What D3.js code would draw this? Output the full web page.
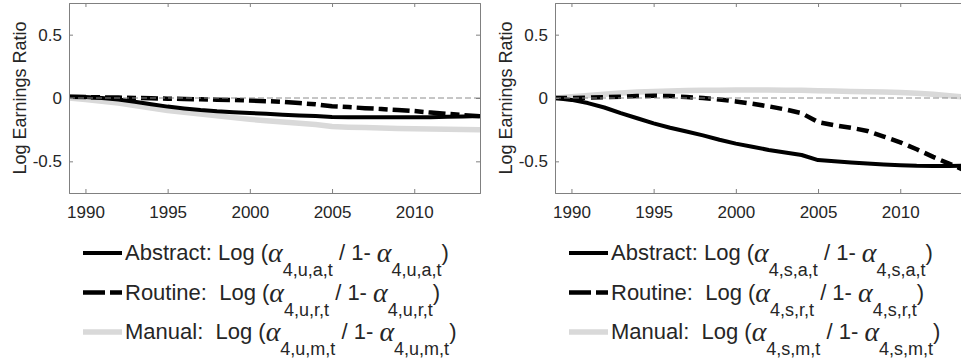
<!DOCTYPE html>
<html>
<head>
<meta charset="utf-8">
<script src="https://cdn.jsdelivr.net/npm/d3@7"></script>
<style>
  body { margin: 0; background: #fff; }
  svg { display: block; font-family: "Liberation Sans", Arial, Helvetica, sans-serif; }
</style>
</head>
<body>
<svg id="chart" width="961" height="358"></svg>
<script>
// data (1989-2014)
const years = [1989, 1990, 1991, 1992, 1993, 1994, 1995, 1996, 1997, 1998, 1999, 2000, 2001,
  2002, 2003, 2004, 2005, 2006, 2007, 2008, 2009, 2010, 2011, 2012, 2013, 2014]
const xTicks = [1990, 1995, 2000, 2005, 2010]
const yTicks = [-0.5, 0, 0.5]
const yTickLabels = ['-0.5', '0', '0.5']

// left panel (u)
const uAbstract = [0.01, 0.008, 0.0, -0.012, -0.03, -0.05, -0.068, -0.082, -0.095, -0.105, -0.112, -0.118, -0.125,
  -0.132, -0.138, -0.143, -0.15, -0.151, -0.152, -0.152, -0.152, -0.152, -0.151, -0.149, -0.146, -0.142]
const uRoutine = [0.01, 0.007, 0.005, 0.003, 0.0, -0.002, -0.005, -0.008, -0.01, -0.013, -0.016, -0.02, -0.025,
  -0.03, -0.04, -0.05, -0.065, -0.072, -0.08, -0.087, -0.095, -0.103, -0.115, -0.125, -0.135, -0.145]
const uManual = [0.0, -0.012, -0.025, -0.04, -0.06, -0.08, -0.098, -0.113, -0.127, -0.14, -0.155, -0.168, -0.18,
  -0.19, -0.2, -0.21, -0.225, -0.23, -0.233, -0.237, -0.24, -0.243, -0.245, -0.247, -0.248, -0.25]

// right panel (s)
const sAbstract = [0.0, -0.015, -0.04, -0.075, -0.12, -0.16, -0.2, -0.235, -0.265, -0.295, -0.33, -0.36, -0.385,
  -0.41, -0.43, -0.45, -0.49, -0.5, -0.51, -0.518, -0.525, -0.53, -0.535, -0.537, -0.537, -0.535]
const sRoutine = [0.0, 0.0, 0.003, 0.006, 0.01, 0.015, 0.018, 0.015, 0.008, 0.0, -0.012, -0.027, -0.045,
  -0.066, -0.09, -0.12, -0.19, -0.215, -0.235, -0.26, -0.305, -0.35, -0.405, -0.465, -0.52, -0.575]
const sManual = [0.0, 0.01, 0.02, 0.03, 0.04, 0.047, 0.052, 0.056, 0.059, 0.061, 0.062, 0.063, 0.063,
  0.063, 0.062, 0.061, 0.058, 0.055, 0.052, 0.05, 0.047, 0.044, 0.038, 0.03, 0.018, 0.006]

const seriesNames = ['Abstract:', 'Routine: ', 'Manual: ']
const seriesKeys = ['a', 'r', 'm']

const svg = d3.select('#chart')
const axisColor = '#808080'
const textColor = '#262626'
const grayLine = '#d9d9d9'
const greekFont = '"Liberation Serif", "DejaVu Serif", serif'

const panels = [
  { left: 69, group: 'u', routineDash: '17,5,9,5', data: [uAbstract, uRoutine, uManual] },
  { left: 555, group: 's', routineDash: '12,6', data: [sAbstract, sRoutine, sManual] },
]

const plotW = 411
const plotTop = 3
const plotBottom = 193

panels.forEach((p, i) => {
  const x = d3.scaleLinear().domain([1989, 2014]).range([p.left, p.left + plotW])
  const y = d3.scaleLinear().domain([-0.75, 0.75]).range([plotBottom, plotTop])

  const clipId = `clip-${i}`
  svg.append('clipPath').attr('id', clipId)
    .append('rect')
    .attr('x', p.left).attr('y', plotTop)
    .attr('width', plotW).attr('height', plotBottom - plotTop)

  const g = svg.append('g')

  // series: manual underneath, then routine, then abstract
  const line = d3.line().x((d, j) => x(years[j])).y(d => y(d))
  const styles = [
    { color: '#000', width: 4, dash: null },
    { color: '#000', width: 4.5, dash: p.routineDash },
    { color: grayLine, width: 5.5, dash: null },
  ]
  const lines = g.append('g').attr('clip-path', `url(#${clipId})`)
  ;[2, 1, 0].forEach(k => {
    lines.append('path')
      .datum(p.data[k])
      .attr('d', line)
      .attr('fill', 'none')
      .attr('stroke', styles[k].color)
      .attr('stroke-width', styles[k].width)
      .attr('stroke-dasharray', styles[k].dash)
      .attr('stroke-linejoin', 'round')
  })

  // zero reference line
  lines.append('line')
    .attr('x1', x(1989)).attr('x2', x(2014))
    .attr('y1', y(0)).attr('y2', y(0))
    .attr('stroke', '#8c8c8c')
    .attr('stroke-width', 1)
    .attr('stroke-dasharray', '6,3')

  // axes (box with inward ticks)
  const bottom = g.append('g').attr('transform', `translate(0,${plotBottom})`)
    .call(d3.axisBottom(x).tickValues(xTicks).tickFormat(d3.format('d')).tickSize(-4).tickPadding(13))
  const top = g.append('g').attr('transform', `translate(0,${plotTop})`)
    .call(d3.axisTop(x).tickValues(xTicks).tickFormat('').tickSize(-4))
  const leftAx = g.append('g').attr('transform', `translate(${p.left},0)`)
    .call(d3.axisLeft(y).tickValues(yTicks).tickFormat((d, j) => yTickLabels[j]).tickSize(-4).tickPadding(7))
  const rightAx = g.append('g').attr('transform', `translate(${p.left + plotW},0)`)
    .call(d3.axisRight(y).tickValues(yTicks).tickFormat('').tickSize(-4))

  ;[bottom, top, leftAx, rightAx].forEach(a => {
    a.select('.domain').attr('stroke', axisColor).attr('stroke-width', 1)
    a.selectAll('.tick line').attr('stroke', axisColor)
    a.selectAll('.tick text').attr('fill', textColor).attr('font-size', 17)
      .attr('font-family', '"Liberation Sans", Arial, sans-serif')
  })

  // y label
  g.append('text')
    .attr('transform', `translate(${p.left - 43},${(plotTop + plotBottom) / 2}) rotate(-90)`)
    .attr('text-anchor', 'middle')
    .attr('fill', textColor)
    .attr('font-size', 18)
    .text('Log Earnings Ratio')

  // legend
  const legX = p.left + 14
  const rowY = [253, 292.5, 332]
  const leg = g.append('g')
  seriesNames.forEach((name, k) => {
    leg.append('line')
      .attr('x1', legX).attr('x2', legX + 39)
      .attr('y1', rowY[k]).attr('y2', rowY[k])
      .attr('stroke', styles[k].color)
      .attr('stroke-width', styles[k].width)
      .attr('stroke-dasharray', k === 1 ? '22,5,12,5' : null)

    // Log (alpha_sub / 1- alpha_sub), tex-style subscripts hanging below
    const sub = `4,${p.group},${seriesKeys[k]},t`
    const t = leg.append('text')
      .attr('x', legX + 42)
      .attr('y', rowY[k] + 7)
      .attr('fill', textColor)
      .attr('font-size', 22)
      .style('white-space', 'pre')
    t.append('tspan').text(`${name} Log (`)
    t.append('tspan').attr('dy', 2).attr('font-family', greekFont)
      .attr('font-style', 'italic').attr('font-size', 28).text('α')
    t.append('tspan').attr('dy', 14).attr('font-size', 18).text(sub)
    t.append('tspan').attr('dy', -16).text(' / 1- ')
    t.append('tspan').attr('dy', 2).attr('font-family', greekFont)
      .attr('font-style', 'italic').attr('font-size', 28).text('α')
    t.append('tspan').attr('dy', 14).attr('font-size', 18).text(sub)
    t.append('tspan').attr('dy', -16).text(')')
  })
})
</script>
</body>
</html>
